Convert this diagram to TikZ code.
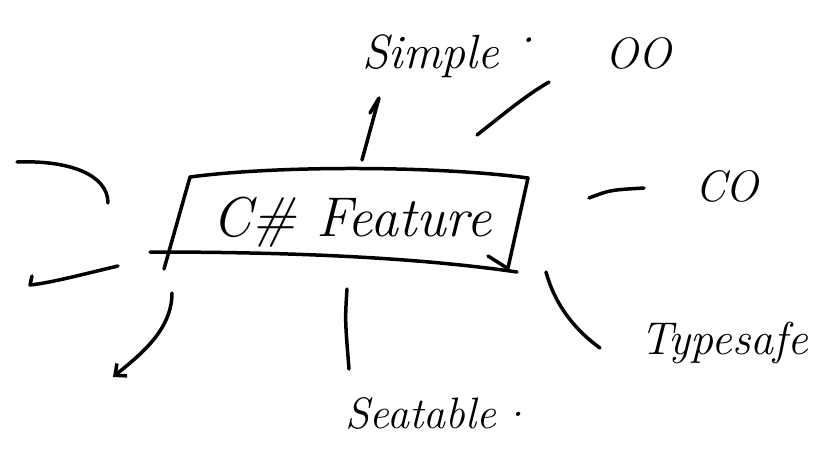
\documentclass[tikz,border=0pt]{standalone}
\usetikzlibrary{arrows.meta}
\begin{document}
\begin{tikzpicture}[x=1pt,y=-1pt,
  ink/.style={line width=3.5pt,line cap=round,line join=round,black},
  hand/.style={font=\itshape\fontsize{44}{50}\selectfont,inner sep=0pt}]
\useasboundingbox (0,0) rectangle (819,450);
% feature box
\draw[ink] (190,177) .. controls (280,165) and (440,166) .. (528,178) -- (508,268);
\draw[ink] (190,177) -- (164,269);
\draw[ink] (150,252) .. controls (300,252) and (420,258) .. (517,272);
\draw[ink] (488,256) -- (507,268);
\node[hand,font=\itshape\fontsize{56}{62}\selectfont] (feat) at (352,222) {C\# Feature};
% labels
\node[hand,anchor=base west,font=\itshape\fontsize{48}{54}\selectfont] (simple) at (362,68) {Simple\hspace{22pt}\raisebox{26pt}{.}};
\node[hand] (oo) at (638,53) {OO};
\node[hand] (co) at (727,186) {CO};
\node[hand,font=\itshape\fontsize{46}{52}\selectfont] (typesafe) at (724,343) {Typesafe};
\node[hand,anchor=base west] (seatable) at (345,428) {Seatable\hspace{16pt}\raisebox{12pt}{.}};
% connector end points
\coordinate (s0) at (362,160); \coordinate (s1) at (379,98); \coordinate (sb) at (370,113);
\coordinate (o0) at (477,135); \coordinate (o1) at (549,82);
\coordinate (c0) at (589,198); \coordinate (c1) at (644,188);
\coordinate (t0) at (546,272); \coordinate (t1) at (600,348);
\coordinate (e0) at (347,289); \coordinate (e1) at (349,369);
\coordinate (b0) at (172,293); \coordinate (b1) at (113,377);
\coordinate (l0) at (17,162); \coordinate (l1) at (108,203);
\coordinate (m0) at (118,266); \coordinate (m1) at (30,285); \coordinate (mh) at (32,276);
% connectors
\draw[ink] (s0) -- (s1) -- (sb);
\draw[ink] (o0) .. controls (505,113) and (525,96) .. (o1);
\draw[ink] (c0) .. controls (610,190) .. (c1);
\draw[ink] (t0) .. controls (555,305) and (575,330) .. (t1);
\draw[ink] (e0) .. controls (345,320) .. (e1);
\draw[ink,-{Straight Barb[length=9pt,width=16pt]}] (b0) .. controls (172,330) and (140,355) .. (b1);
\draw[ink] (l0) .. controls (70,160) and (108,175) .. (l1);
\draw[ink] (m0) .. controls (80,275) and (50,283) .. (m1) -- (mh);
\end{tikzpicture}
\end{document}
